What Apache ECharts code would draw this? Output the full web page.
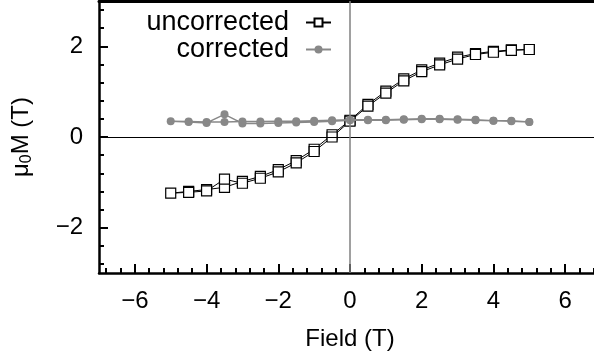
<!DOCTYPE html>
<html>
<head>
<meta charset="utf-8">
<script src="https://cdn.jsdelivr.net/npm/echarts@6/dist/echarts.min.js"></script>
<style>
html,body{margin:0;padding:0;background:#fff;}
#chart{width:594px;height:360px;}
</style>
</head>
<body>
<div id="chart"></div>
<script>
// Field sweep: +5 -> -5 -> +5 (T)
const fieldSweep = [5, 4.5, 4, 3.5, 3, 2.5, 2, 1.5, 1, 0.5, 0, -0.5, -1, -1.5, -2, -2.5, -3, -3.5, -4, -4.5, -5,
                    -4.5, -4, -3.5, -3, -2.5, -2, -1.5, -1, -0.5, 0, 0.5, 1, 1.5, 2, 2.5, 3, 3.5, 4, 4.5, 5];
const uncorrected = [1.93, 1.92, 1.89, 1.84, 1.76, 1.63, 1.48, 1.28, 1.01, 0.72, 0.37, 0.05, -0.27, -0.52, -0.72, -0.87, -0.98, -1.11, -1.16, -1.20, -1.24,
                     -1.22, -1.19, -0.93, -1.02, -0.91, -0.77, -0.57, -0.32, 0.00, 0.35, 0.68, 0.97, 1.24, 1.44, 1.59, 1.72, 1.82, 1.87, 1.91, 1.93];
const corrected = [0.33, 0.36, 0.36, 0.38, 0.39, 0.40, 0.40, 0.39, 0.38, 0.38, 0.38, 0.37, 0.36, 0.35, 0.35, 0.34, 0.34, 0.33, 0.33, 0.34, 0.35,
                   0.33, 0.31, 0.50, 0.30, 0.30, 0.31, 0.32, 0.33, 0.35, 0.37, 0.37, 0.37, 0.38, 0.39, 0.39, 0.38, 0.37, 0.36, 0.35, 0.33];
const seriesNames = ['uncorrected', 'corrected'];
const xMajorTicks = [-6, -4, -2, 0, 2, 4, 6];
const yMajorTicks = [-2, 0, 2];

function minorTicks(lo, hi, step, majors) {
  const out = [];
  const n = Math.round((hi - lo) / step);
  for (let i = 0; i <= n; i++) {
    const v = Math.round((lo + i * step) * 100) / 100;
    if (!majors.some(m => Math.abs(m - v) < 1e-6)) out.push(v);
  }
  return out;
}
const xMinorTicks = minorTicks(-6.8, 6.8, 0.4, xMajorTicks);
const yMinorTicks = minorTicks(-2.8, 2.8, 0.4, yMajorTicks);

const fmt = v => String(v).replace('-', '\u2212');
const FONT = 'Liberation Sans';

const chart = echarts.init(document.getElementById('chart'), null, {renderer: 'canvas'});
chart.setOption({
  animation: false,
  backgroundColor: '#fff',
  textStyle: {fontFamily: FONT},
  grid: {left: 99, top: 1, bottom: 87, right: -7, containLabel: false, outerBoundsMode: 'none'},
  legend: {
    orient: 'vertical',
    right: 262,
    top: 9,
    padding: 0,
    align: 'right',
    itemWidth: 25,
    itemHeight: 10,
    itemGap: 0,
    textStyle: {fontFamily: FONT, fontSize: 27, color: '#000', lineHeight: 24, padding: [0, 12, 0, 0]},
    data: seriesNames
  },
  xAxis: [
    {
      type: 'value', min: -7, max: 7, position: 'bottom',
      name: 'Field (T)', nameLocation: 'middle', nameGap: 54,
      nameTextStyle: {fontFamily: FONT, fontSize: 24, color: '#000'},
      axisLine: {show: true, onZero: false, lineStyle: {color: '#000', width: 2.5}},
      axisTick: {show: true, inside: true, length: 9, customValues: xMajorTicks, lineStyle: {color: '#000', width: 2}},
      axisLabel: {show: true, margin: 16, fontFamily: FONT, fontSize: 24, color: '#000', customValues: xMajorTicks, formatter: fmt},
      splitLine: {show: false}
    },
    {
      type: 'value', min: -7, max: 7, position: 'bottom',
      axisLine: {show: false, onZero: false},
      axisTick: {show: true, inside: true, length: 5, customValues: xMinorTicks, lineStyle: {color: '#000', width: 2}},
      axisLabel: {show: false},
      splitLine: {show: false}
    },
    {
      type: 'value', min: -7, max: 7, position: 'top',
      axisLine: {show: true, onZero: false, lineStyle: {color: '#000', width: 3}},
      axisTick: {show: false},
      axisLabel: {show: false},
      splitLine: {show: false}
    }
  ],
  yAxis: [
    {
      type: 'value', min: -3, max: 3, position: 'left',
      name: '{a|\u03bc}{s|0}{a|M (T)}', nameLocation: 'middle', nameGap: 64, nameRotate: 90,
      nameTextStyle: {
        fontFamily: FONT, fontSize: 24, color: '#000',
        rich: {
          a: {fontFamily: FONT, fontSize: 24, color: '#000'},
          s: {fontFamily: FONT, fontSize: 16, color: '#000', verticalAlign: 'bottom', padding: [12, 0, 0, 0]}
        }
      },
      axisLine: {show: true, onZero: false, lineStyle: {color: '#000', width: 2.5}},
      axisTick: {show: true, inside: true, length: 9, customValues: yMajorTicks, lineStyle: {color: '#000', width: 2}},
      axisLabel: {show: true, margin: 16, fontFamily: FONT, fontSize: 24, color: '#000', customValues: yMajorTicks, formatter: fmt},
      splitLine: {show: false}
    },
    {
      type: 'value', min: -3, max: 3, position: 'left',
      axisLine: {show: false, onZero: false},
      axisTick: {show: true, inside: true, length: 5, customValues: yMinorTicks, lineStyle: {color: '#000', width: 2}},
      axisLabel: {show: false},
      splitLine: {show: false}
    }
  ],
  series: [
    {
      name: '__zero', type: 'line', data: [], z: 1, silent: true,
      markLine: {
        silent: true, symbol: 'none', animation: false,
        label: {show: false},
        data: [
          {yAxis: 0, lineStyle: {color: '#000', width: 1, type: 'solid'}},
          {xAxis: 0, lineStyle: {color: '#808080', width: 1.5, type: 'solid'}}
        ]
      }
    },
    {
      name: seriesNames[0], type: 'line', z: 3,
      data: fieldSweep.map((f, i) => [f, uncorrected[i]]),
      symbol: 'rect', symbolSize: 10,
      lineStyle: {color: '#000', width: 1},
      itemStyle: {color: '#fff', borderColor: '#000', borderWidth: 1.2}
    },
    {
      name: seriesNames[1], type: 'line', z: 4,
      data: fieldSweep.map((f, i) => [f, corrected[i]]),
      symbol: 'circle', symbolSize: 8,
      lineStyle: {color: '#888', width: 1.5},
      itemStyle: {color: '#888', borderColor: '#888', borderWidth: 0}
    }
  ]
});
</script>
</body>
</html>
